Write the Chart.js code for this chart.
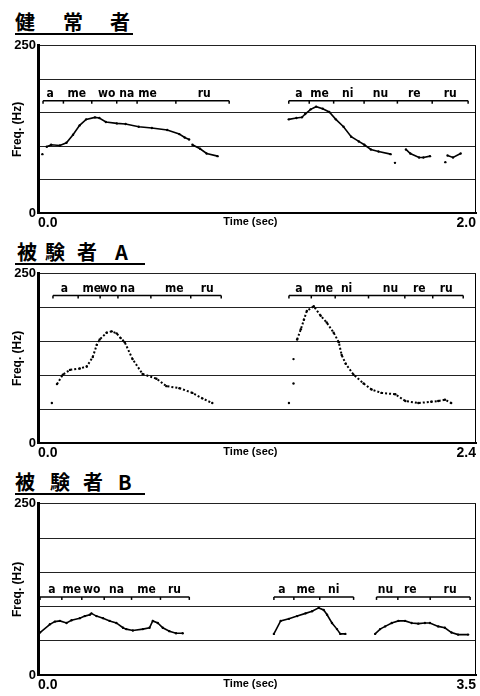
<!DOCTYPE html>
<html>
<head>
<meta charset="utf-8">
<script src="https://cdn.jsdelivr.net/npm/chart.js@4"></script>
<style>
body { margin: 0; background: #fff; width: 480px; height: 696px; position: relative; overflow: hidden; }
.title { position: absolute; left: 15px; height: 22px; border-bottom: 2px solid #000;
         font-family: "Noto Sans CJK JP", sans-serif; font-weight: 700; font-size: 20px; line-height: 22px; color: #000; }
.title span { position: absolute; top: 0; }
canvas { position: absolute; left: 0; }
</style>
</head>
<body>
<div class="title" style="top:11px; width:118px"><span style="left:0">健</span><span style="left:48px">常</span><span style="left:95px">者</span></div>
<canvas id="chart1" width="480" height="196" style="top:36px"></canvas>
<div class="title" style="top:241px; width:130px"><span style="left:2px">被</span><span style="left:30px">験</span><span style="left:62px">者</span><span style="left:100px">A</span></div>
<canvas id="chart2" width="480" height="196" style="top:264px"></canvas>
<div class="title" style="top:471px; width:130px"><span style="left:0">被</span><span style="left:35px">験</span><span style="left:68px">者</span><span style="left:103px">B</span></div>
<canvas id="chart3" width="480" height="200" style="top:494px"></canvas>
<script>
// 健常者 (0 - 2.0 sec)
const normalTime1 = [0.02, 0.03, 0.04, 0.06, 0.10, 0.13, 0.16, 0.19, 0.22, 0.26, 0.28, 0.31, 0.36, 0.40, 0.46, 0.52, 0.59, 0.645, 0.67, 0.69, 0.695, 0.705, 0.74, 0.77, 0.82];
const normalHz1 = [88, null, 99, 102, 101, 105, 117, 131, 140, 143, 142, 136, 134, 133, 129, 127, 124, 118, 113, 110, null, 102, 96, 89, 85];
const normalTime2 = [1.145, 1.18, 1.205, 1.22, 1.245, 1.27, 1.30, 1.33, 1.36, 1.395, 1.43, 1.465, 1.49, 1.52, 1.555, 1.61, 1.62, 1.63, 1.65, 1.68, 1.70, 1.74, 1.76, 1.79, 1.82, 1.86, 1.865, 1.87, 1.895, 1.93];
const normalHz2 = [140, 142, 143, 148, 155, 159, 156, 151, 140, 129, 114, 107, 102, 95, 92, 88, null, 75, null, 95, 89, 83, 83, 85, null, 76, null, 86, 83, 89];

// 被験者A (0 - 2.4 sec)
const subjATime1 = [0.076, 0.09, 0.104, 0.136, 0.175, 0.229, 0.267, 0.30, 0.322, 0.338, 0.376, 0.404, 0.431, 0.453, 0.475, 0.518, 0.573, 0.649, 0.704, 0.775, 0.846, 0.90, 0.955];
const subjAHz1 = [59, null, 87, 101, 108, 110, 113, 127, 145, 153, 163, 165, 162, 155, 149, 124, 102, 95, 84, 81, 74, 66, 59];
const subjATime2 = [1.375, 1.39, 1.40, 1.40, 1.40, 1.41, 1.42, 1.44, 1.457, 1.473, 1.511, 1.549, 1.582, 1.62, 1.648, 1.664, 1.686, 1.729, 1.784, 1.828, 1.882, 1.958, 2.013, 2.084, 2.155, 2.193, 2.23, 2.264];
const subjAHz2 = [59, null, 88, null, 124, null, 153, 168, 182, 195, 202, 188, 178, 163, 149, 130, 117, 101, 88, 79, 74, 72, 62, 59, 61, 62, 64, 59];

// 被験者B (0 - 3.5 sec)
const subjBTime1 = [0.016, 0.095, 0.135, 0.175, 0.228, 0.268, 0.334, 0.374, 0.414, 0.427, 0.467, 0.52, 0.573, 0.626, 0.679, 0.705, 0.758, 0.838, 0.891, 0.917, 0.957, 0.997, 1.05, 1.103, 1.156];
const subjBHz1 = [62, 74, 78, 79, 76, 80, 83, 86, 88, 90, 86, 83, 79, 76, 69, 67, 65, 67, 69, 79, 76, 69, 64, 61, 61];
const subjBTime2 = [1.885, 1.939, 2.005, 2.071, 2.138, 2.19, 2.243, 2.283, 2.31, 2.349, 2.389, 2.416, 2.456];
const subjBHz2 = [60, 79, 82, 86, 90, 93, 98, 95, 88, 76, 67, 60, 60];
const subjBTime3 = [2.694, 2.734, 2.774, 2.827, 2.88, 2.933, 2.986, 3.039, 3.092, 3.132, 3.198, 3.251, 3.304, 3.357, 3.437];
const subjBHz3 = [60, 67, 71, 76, 79, 79, 76, 75, 76, 76, 71, 69, 62, 59, 59];

// syllable labels: text, centre times, bracket start/end, bracket height (Hz)
const sylAmewo = ['a', 'me', 'wo', 'na', 'me', 'ru'];
const sylAmeni = ['a', 'me', 'ni', 'nu', 're', 'ru'];
const normalSylAt1 = [0.055, 0.177, 0.314, 0.405, 0.5, 0.759];
const normalSylAt2 = [1.191, 1.286, 1.414, 1.564, 1.718, 1.882];
const normalSylSpan = [[0.023, 0.873], [1.145, 1.964]];
const subjASylAt1 = [0.145, 0.295, 0.386, 0.49, 0.747, 0.927];
const subjASylAt2 = [1.429, 1.566, 1.691, 1.931, 2.089, 2.237];
const subjASylSpan = [[0.082, 1.004], [1.375, 2.33]];
const subjBSylAt1 = [0.111, 0.27, 0.43, 0.628, 0.867, 1.09];
const subjBSylAt2 = [1.949, 2.14, 2.363];
const subjBSylAt3 = [2.776, 2.975, 3.293];
const subjBSylSpan = [[0.016, 1.209], [1.885, 2.522], [2.705, 3.453]];
const labelHz = [168, 218, 114];
const maxTime = [2.0, 2.4, 3.5];

const fam = '"Liberation Sans", Arial, sans-serif';

function series(times, hz, dotted) {
    return {
        data: times.map((t, i) => ({x: t, y: hz[i]})),
        borderColor: '#000',
        backgroundColor: '#000',
        borderWidth: dotted ? 2 : 1.6,
        borderDash: dotted ? [2, 2] : [],
        pointRadius: 1.2,
        pointBorderWidth: 0,
        tension: 0,
        spanGaps: false
    };
}

function syllablePlugin(groups, level) {
    return {
        id: 'syllables',
        afterDatasetsDraw(chart) {
            const {ctx, chartArea, scales: {x, y}} = chart;
            const yy = y.getPixelForValue(level);
            ctx.save();
            ctx.strokeStyle = '#000';
            ctx.fillStyle = '#000';
            ctx.font = 'bold 12px "DejaVu Sans Condensed", "Liberation Sans", sans-serif';
            ctx.textAlign = 'center';
            ctx.textBaseline = 'bottom';
            groups.forEach(g => {
                const x0 = x.getPixelForValue(g.span[0]);
                const x1 = x.getPixelForValue(g.span[1]);
                ctx.lineWidth = 1.5;
                ctx.beginPath();
                ctx.moveTo(x0, yy);
                ctx.lineTo(x1, yy);
                ctx.stroke();
                let marks = [g.span[0]];
                for (let i = 1; i < g.at.length; i++) marks.push((g.at[i] + g.at[i - 1]) / 2);
                marks.push(g.span[1]);
                marks.forEach(m => {
                    const px = x.getPixelForValue(m);
                    ctx.beginPath();
                    ctx.moveTo(px, yy);
                    ctx.lineTo(px, yy + 3);
                    ctx.stroke();
                });
                g.text.forEach((s, i) => ctx.fillText(s, x.getPixelForValue(g.at[i]), yy - 1));
            });
            // right frame
            ctx.lineWidth = 1;
            ctx.beginPath();
            ctx.moveTo(chartArea.right - 0.5, chartArea.top);
            ctx.lineTo(chartArea.right - 0.5, chartArea.bottom);
            ctx.stroke();
            ctx.restore();
        }
    };
}

function makeChart(id, tMax, datasets, groups, level, xHeight) {
    const ctx = document.getElementById(id).getContext('2d');
    return new Chart(ctx, {
        type: 'line',
        data: {datasets: datasets},
        plugins: [syllablePlugin(groups, level)],
        options: {
            responsive: false,
            animation: false,
            layout: {padding: {top: 6, right: 2, left: 0, bottom: 0}},
            plugins: {legend: {display: false}, tooltip: {enabled: false}},
            scales: {
                x: {
                    type: 'linear',
                    min: 0,
                    max: tMax,
                    afterFit: s => { s.height = xHeight; },
                    afterBuildTicks: s => { s.ticks = [{value: 0}, {value: tMax * 0.485}, {value: tMax}]; },
                    grid: {display: false, drawTicks: false},
                    border: {display: true, width: 2, color: '#000'},
                    ticks: {
                        align: 'inner',
                        padding: 2,
                        maxRotation: 0,
                        autoSkip: false,
                        color: '#000',
                        font: c => c.index === 1 ? {family: fam, size: 11, weight: 'bold'} : {family: fam, size: 14, weight: 'bold'},
                        callback: (v, i) => i === 1 ? 'Time (sec)' : v.toFixed(1)
                    }
                },
                y: {
                    min: 0,
                    max: 250,
                    afterFit: s => { s.width = 38; },
                    border: {display: true, width: 3, color: '#000'},
                    grid: {color: '#222', lineWidth: 1, drawTicks: false},
                    ticks: {
                        stepSize: 50,
                        padding: 2,
                        color: '#000',
                        font: {family: fam, size: 13, weight: 'bold'},
                        callback: v => (v === 0 || v === 250) ? v : ''
                    },
                    title: {
                        display: true,
                        text: 'Freq. (Hz)',
                        color: '#000',
                        font: {family: fam, size: 12, weight: 'bold'},
                        padding: {top: 10, bottom: 0}
                    }
                }
            }
        }
    });
}

makeChart('chart1', maxTime[0],
    [series(normalTime1, normalHz1), series(normalTime2, normalHz2)],
    [{text: sylAmewo, at: normalSylAt1, span: normalSylSpan[0]},
     {text: sylAmeni, at: normalSylAt2, span: normalSylSpan[1]}],
    labelHz[0], 19);

makeChart('chart2', maxTime[1],
    [series(subjATime1, subjAHz1, true), series(subjATime2, subjAHz2, true)],
    [{text: sylAmewo, at: subjASylAt1, span: subjASylSpan[0]},
     {text: sylAmeni, at: subjASylAt2, span: subjASylSpan[1]}],
    labelHz[1], 17);

makeChart('chart3', maxTime[2],
    [series(subjBTime1, subjBHz1), series(subjBTime2, subjBHz2), series(subjBTime3, subjBHz3)],
    [{text: sylAmewo, at: subjBSylAt1, span: subjBSylSpan[0]},
     {text: ['a', 'me', 'ni'], at: subjBSylAt2, span: subjBSylSpan[1]},
     {text: ['nu', 're', 'ru'], at: subjBSylAt3, span: subjBSylSpan[2]}],
    labelHz[2], 19);
</script>
</body>
</html>
